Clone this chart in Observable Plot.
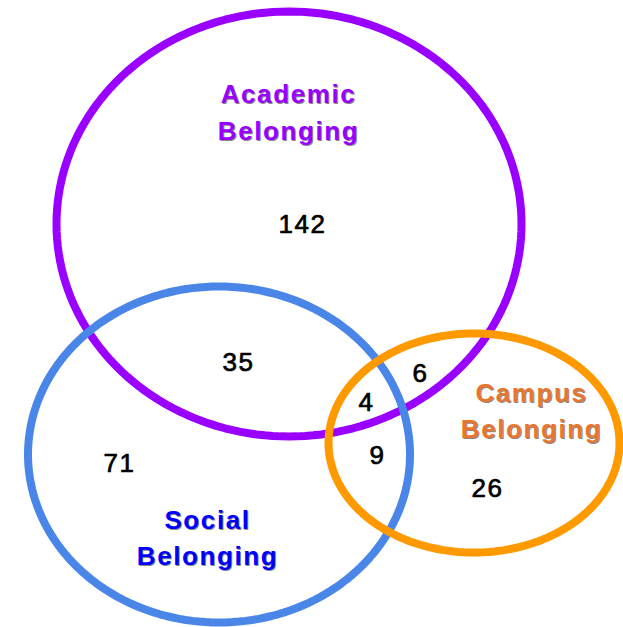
<!DOCTYPE html>
<html><head><meta charset="utf-8">
<script src="https://cdn.jsdelivr.net/npm/d3@7"></script>
<script src="https://cdn.jsdelivr.net/npm/@observablehq/plot@0.6"></script>
<style>
body{margin:0;background:#fff;}
#chart svg text{letter-spacing:1.6px;}
</style>
</head><body><div id="chart"></div>
<script>
// Sets (ellipses) in diagram coordinates
const sets = ["Academic Belonging", "Social Belonging", "Campus Belonging"];
const setCx = [288.5, 218.5, 473.5];
const setCy = [223.5, 454, 442.5];
const setRx = [232.5, 191, 145.5];
const setRy = [212.5, 168, 109.5];
const setColors = ["#9900FF", "#4A86E8", "#FF9900"];

// Set labels
const labelText = ["Academic\nBelonging", "Social\nBelonging", "Campus\nBelonging"];
const labelX = [288, 207, 531];
const labelY = [109.5, 535, 408];
const labelColors = ["#9900FF", "#0000FF", "#E8762D"];

// Region counts
const regionNames = ["Academic only", "Academic∩Social", "Academic∩Campus", "All three", "Social∩Campus", "Social only", "Campus only"];
const regionCounts = [142, 35, 6, 4, 9, 71, 26];
const regionX = [302, 238, 420, 366, 377, 119, 487];
const regionY = [224, 362, 373, 402, 455, 463, 488];

// Build ellipse outlines
const angles = d3.range(0, 360, 2);
const outline = sets.flatMap((s, i) => angles.map(a => ({
  set: s,
  x: setCx[i] + setRx[i] * Math.cos(a * Math.PI / 180),
  y: setCy[i] + setRy[i] * Math.sin(a * Math.PI / 180)
})));
const labels = sets.map((s, i) => ({set: s, text: labelText[i], x: labelX[i], y: labelY[i], color: labelColors[i]}));
const regions = regionNames.map((r, i) => ({region: r, count: regionCounts[i], x: regionX[i], y: regionY[i]}));

const font = "'Liberation Sans', Arial, sans-serif";
const chart = Plot.plot({
  width: 623, height: 627,
  margin: 0,
  x: {domain: [0, 623], range: [0, 623], axis: null},
  y: {domain: [0, 627], range: [0, 627], axis: null},
  color: {domain: sets, range: setColors},
  marks: [
    Plot.line(outline, {x: "x", y: "y", z: "set", stroke: "set", strokeWidth: 8, curve: "linear-closed"}),
    Plot.text(labels, {x: "x", y: "y", text: "text", fill: "#222", fillOpacity: 0.55, dx: 1, dy: 1,
      fontSize: 26, fontWeight: "bold", fontFamily: font, lineHeight: 1.4}),
    Plot.text(labels, {x: "x", y: "y", text: "text", fill: d => d.color,
      fontSize: 26, fontWeight: "bold", fontFamily: font, lineHeight: 1.4}),
    Plot.text(regions, {x: "x", y: "y", text: d => String(d.count), fill: "#000",
      stroke: "#000", strokeWidth: 0.7, fontSize: 26, fontFamily: font})
  ]
});
document.getElementById("chart").appendChild(chart);
</script>
</body></html>
